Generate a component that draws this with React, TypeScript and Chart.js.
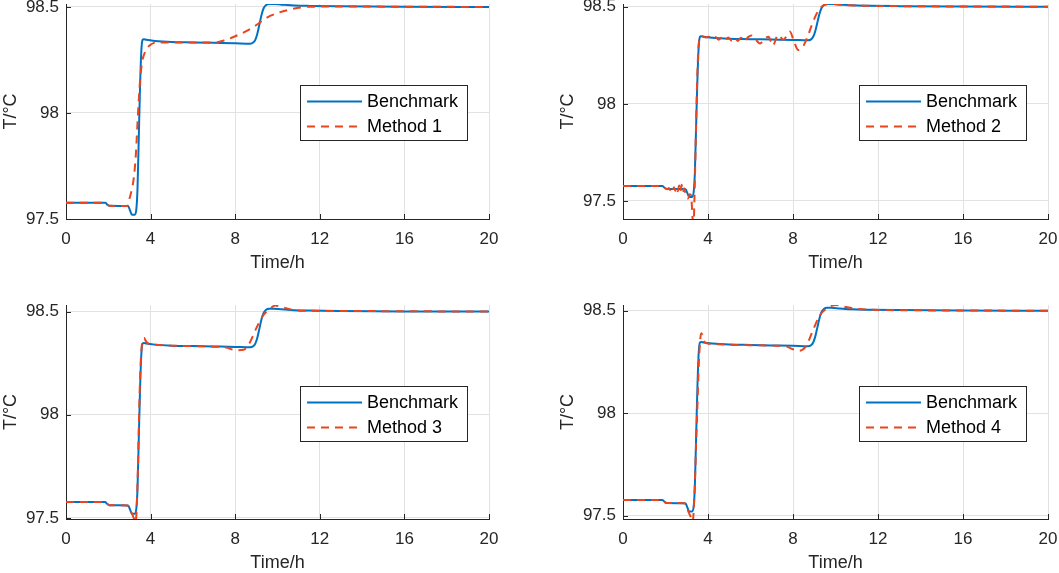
import { useEffect, useRef } from 'react'
import { Chart, registerables } from 'chart.js'

Chart.register(...registerables)

const FONT = '"Liberation Sans", Arial, Helvetica, sans-serif'
const BLUE = '#0072c4'
const RED = '#e8461e'
const INK = '#262626'
const GRID = '#e2e2e2'

const xTicks = [0, 4, 8, 12, 16, 20]
const yTicks = [97.5, 98, 98.5]

// benchmark response, same in all four panels
const benchTime = [0, 1.85, 1.95, 2.05, 2.9, 2.96, 3.03, 3.12, 3.25, 3.33, 3.38, 3.44, 3.5, 3.56, 3.62, 3.68, 3.8, 4.2, 5, 6, 7, 8, 8.7, 8.85, 8.95, 9.05, 9.15, 9.25, 9.35, 9.45, 9.6, 9.8, 10.2, 10.8, 11.5, 13, 16, 20]
const benchTemp = [97.577, 97.577, 97.568, 97.562, 97.561, 97.558, 97.54, 97.52, 97.52, 97.55, 97.64, 97.88, 98.12, 98.29, 98.345, 98.348, 98.345, 98.34, 98.335, 98.333, 98.331, 98.329, 98.327, 98.332, 98.345, 98.375, 98.42, 98.465, 98.495, 98.508, 98.514, 98.514, 98.511, 98.507, 98.505, 98.503, 98.501, 98.5]

const m1Time = [0, 1.85, 1.95, 2.05, 2.9, 2.93, 3.0, 3.1, 3.2, 3.3, 3.4, 3.5, 3.6, 3.75, 3.95, 4.3, 5, 6, 7, 7.5, 8, 8.5, 9, 9.5, 10, 10.5, 11, 11.5, 12.5, 20]
const m1Temp = [97.577, 97.577, 97.568, 97.562, 97.561, 97.565, 97.595, 97.635, 97.69, 97.8, 97.99, 98.15, 98.24, 98.29, 98.318, 98.333, 98.333, 98.332, 98.332, 98.343, 98.362, 98.385, 98.415, 98.45, 98.471, 98.486, 98.496, 98.501, 98.502, 98.5]

const m2Time = [0, 1.85, 1.95, 2.05, 2.1, 2.16, 2.22, 2.28, 2.34, 2.4, 2.46, 2.52, 2.58, 2.64, 2.7, 2.76, 2.82, 2.88, 2.94, 3.0, 3.06, 3.14, 3.2, 3.27, 3.31, 3.36, 3.42, 3.48, 3.54, 3.6, 3.7, 3.9, 4.05, 4.2, 4.35, 4.5, 4.65, 4.8, 4.95, 5.1, 5.25, 5.4, 5.55, 5.7, 5.9, 6.05, 6.25, 6.45, 6.65, 6.85, 7.05, 7.3, 7.55, 7.85, 8.05, 8.25, 8.5, 8.7, 8.9, 9.05, 9.2, 9.4, 9.6, 9.8, 10.3, 11, 13, 20]
const m2Temp = [97.577, 97.577, 97.568, 97.562, 97.56, 97.566, 97.556, 97.568, 97.555, 97.57, 97.552, 97.572, 97.55, 97.58, 97.548, 97.583, 97.545, 97.565, 97.54, 97.53, 97.512, 97.535, 97.53, 97.42, 97.35, 97.5, 97.8, 98.08, 98.27, 98.335, 98.348, 98.342, 98.346, 98.336, 98.344, 98.33, 98.342, 98.328, 98.342, 98.326, 98.341, 98.324, 98.34, 98.322, 98.345, 98.352, 98.33, 98.31, 98.335, 98.345, 98.3, 98.355, 98.33, 98.372, 98.32, 98.277, 98.3, 98.35, 98.41, 98.45, 98.48, 98.505, 98.513, 98.514, 98.51, 98.506, 98.503, 98.5]

const m3Time = [0, 1.85, 1.95, 2.05, 2.9, 2.97, 3.04, 3.12, 3.2, 3.27, 3.33, 3.39, 3.45, 3.51, 3.57, 3.64, 3.7, 3.77, 3.86, 4.1, 5, 6, 7, 7.6, 8.0, 8.4, 8.7, 9.0, 9.3, 9.6, 9.9, 10.25, 10.75, 11.5, 13, 20]
const m3Temp = [97.577, 97.577, 97.568, 97.562, 97.561, 97.555, 97.54, 97.52, 97.5, 97.48, 97.52, 97.7, 97.98, 98.2, 98.32, 98.365, 98.372, 98.358, 98.347, 98.341, 98.335, 98.333, 98.33, 98.326, 98.313, 98.315, 98.352, 98.42, 98.478, 98.51, 98.529, 98.521, 98.508, 98.504, 98.503, 98.5]

const m4Time = [0, 1.85, 1.95, 2.05, 2.9, 2.98, 3.06, 3.14, 3.22, 3.28, 3.33, 3.38, 3.44, 3.5, 3.56, 3.62, 3.68, 3.74, 3.8, 3.88, 4.2, 5, 6, 7, 7.7, 8.0, 8.3, 8.63, 8.94, 9.25, 9.57, 10.04, 10.5, 11.1, 12, 14, 20]
const m4Temp = [97.577, 97.577, 97.568, 97.562, 97.561, 97.548, 97.525, 97.505, 97.485, 97.47, 97.53, 97.65, 97.85, 98.03, 98.22, 98.34, 98.39, 98.38, 98.355, 98.343, 98.338, 98.334, 98.332, 98.33, 98.325, 98.312, 98.305, 98.33, 98.405, 98.475, 98.51, 98.528, 98.518, 98.508, 98.504, 98.502, 98.5]

const toPoints = (t: number[], v: number[]) => t.map((x, i) => ({ x, y: v[i] }))

const panels = [
  { name: 'Method 1', time: m1Time, temp: m1Temp, yMin: 97.5, yMax: 98.514, left: 0, top: 0, width: 499, height: 274 },
  { name: 'Method 2', time: m2Time, temp: m2Temp, yMin: 97.407, yMax: 98.514, left: 557, top: 0, width: 501, height: 274 },
  { name: 'Method 3', time: m3Time, temp: m3Temp, yMin: 97.495, yMax: 98.532, left: 0, top: 301, width: 499, height: 273 },
  { name: 'Method 4', time: m4Time, temp: m4Temp, yMin: 97.484, yMax: 98.528, left: 557, top: 301, width: 501, height: 273 },
]

// legend box inside the plot, right side, centred vertically (like MATLAB 'east')
const legendBox = {
  id: 'legendBox',
  afterDatasetsDraw(chart: any) {
    const { ctx, chartArea: a } = chart
    const w = 167
    const h = 55
    const x = Math.round(a.right - 22 - w)
    const y = Math.round((a.top + a.bottom) / 2 - h / 2 + 1)
    ctx.save()
    ctx.fillStyle = '#fff'
    ctx.fillRect(x, y, w, h)
    ctx.strokeStyle = INK
    ctx.lineWidth = 1
    ctx.strokeRect(x + 0.5, y + 0.5, w, h)
    chart.data.datasets.forEach((ds: any, i: number) => {
      const cy = y + 16.5 + i * 25
      ctx.beginPath()
      ctx.setLineDash(ds.borderDash || [])
      ctx.strokeStyle = ds.borderColor
      ctx.lineWidth = 2
      ctx.moveTo(x + 7, cy)
      ctx.lineTo(x + 62, cy)
      ctx.stroke()
      ctx.setLineDash([])
      ctx.fillStyle = '#000'
      ctx.font = `18px ${FONT}`
      ctx.textBaseline = 'middle'
      ctx.textAlign = 'left'
      ctx.fillText(ds.label, x + 67, cy + 1)
    })
    ctx.restore()
  },
}

// MATLAB style ticks pointing into the axes
const innerTicks = {
  id: 'innerTicks',
  afterDraw(chart: any) {
    const { ctx, chartArea: a, scales } = chart
    ctx.save()
    ctx.strokeStyle = INK
    ctx.lineWidth = 1
    ctx.beginPath()
    scales.x.ticks.forEach((t: any) => {
      const px = Math.round(scales.x.getPixelForValue(t.value)) + 0.5
      ctx.moveTo(px, a.bottom)
      ctx.lineTo(px, a.bottom - 5)
    })
    scales.y.ticks.forEach((t: any) => {
      const py = Math.round(scales.y.getPixelForValue(t.value)) + 0.5
      ctx.moveTo(a.left, py)
      ctx.lineTo(a.left + 5, py)
    })
    ctx.stroke()
    ctx.restore()
  },
}

function Panel({ panel }: { panel: (typeof panels)[number] }) {
  const canvasRef = useRef<HTMLCanvasElement>(null)

  useEffect(() => {
    if (!canvasRef.current) return
    const tickFont = { size: 17, family: FONT }
    const titleFont = { size: 18, family: FONT }
    const chart = new Chart(canvasRef.current, {
      type: 'line',
      data: {
        datasets: [
          {
            label: 'Benchmark',
            data: toPoints(benchTime, benchTemp),
            borderColor: BLUE,
            borderWidth: 2,
            pointRadius: 0,
            cubicInterpolationMode: 'monotone',
            order: 1,
          },
          {
            label: panel.name,
            data: toPoints(panel.time, panel.temp),
            borderColor: RED,
            borderWidth: 2,
            borderDash: [8, 6],
            pointRadius: 0,
            cubicInterpolationMode: 'monotone',
            order: 0,
          },
        ],
      },
      options: {
        animation: false,
        responsive: true,
        maintainAspectRatio: false,
        layout: { padding: { left: 0, top: 4, right: 10, bottom: 0 } },
        plugins: { legend: { display: false }, tooltip: { enabled: false } },
        scales: {
          x: {
            type: 'linear',
            min: 0,
            max: 20,
            afterBuildTicks: (s: any) => {
              s.ticks = xTicks.map((v) => ({ value: v }))
            },
            afterFit: (s: any) => {
              s.height = 55
              s.paddingLeft = 0
              s.paddingRight = 0
            },
            ticks: { padding: 10, color: INK, font: tickFont, maxRotation: 0, autoSkip: false, callback: (v: any) => String(v) },
            grid: { color: GRID, drawTicks: false },
            border: { display: true, color: INK, width: 1 },
            title: { display: true, text: 'Time/h', color: INK, font: titleFont, padding: { top: 0, bottom: 0 } },
          },
          y: {
            type: 'linear',
            min: panel.yMin,
            max: panel.yMax,
            afterBuildTicks: (s: any) => {
              s.ticks = yTicks.map((v) => ({ value: v }))
            },
            afterFit: (s: any) => {
              s.width = 66
              s.paddingTop = 0
              s.paddingBottom = 0
            },
            ticks: { padding: 7, color: INK, font: tickFont, callback: (v: any) => String(v) },
            grid: { color: GRID, drawTicks: false },
            border: { display: true, color: INK, width: 1 },
            title: { display: true, text: 'T/°C', color: INK, font: titleFont, padding: { top: 0, bottom: 0 } },
          },
        },
      },
      plugins: [legendBox, innerTicks],
    } as any)

    return () => chart.destroy()
  }, [panel])

  return (
    <div style={{ position: 'absolute', left: panel.left, top: panel.top, width: panel.width, height: panel.height }}>
      <canvas ref={canvasRef} />
    </div>
  )
}

export default function App() {
  return (
    <div style={{ position: 'absolute', left: 0, top: 0, width: 1059, height: 573, background: '#fff' }}>
      {panels.map((p) => (
        <Panel key={p.name} panel={p} />
      ))}
    </div>
  )
}
